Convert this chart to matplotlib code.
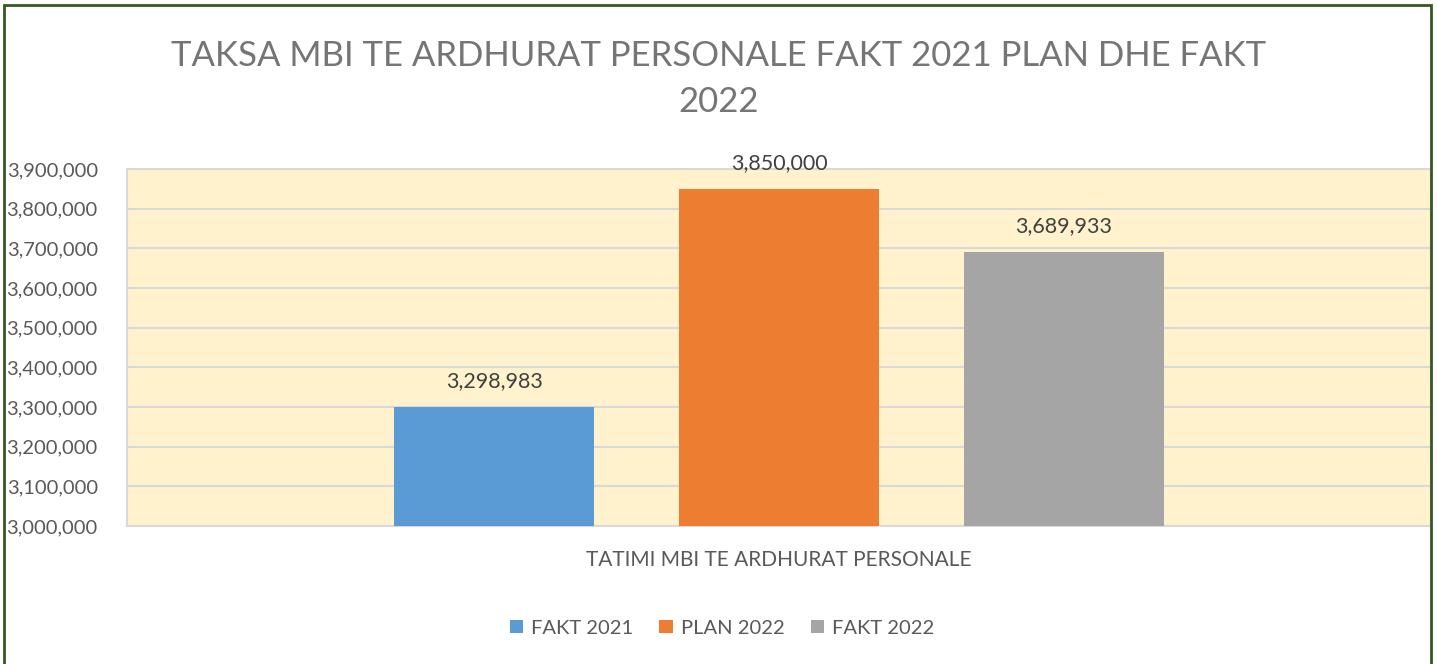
import matplotlib.pyplot as plt
from matplotlib.ticker import FuncFormatter
from matplotlib.patches import Rectangle

plt.rcParams['font.family'] = ['Lato', 'DejaVu Sans']

category = "TATIMI MBI TE ARDHURAT PERSONALE"
series = ["FAKT 2021", "PLAN 2022", "FAKT 2022"]
values = [3298983, 3850000, 3689933]
colors = ["#5b9bd5", "#ed7d31", "#a5a5a5"]
yticks = [3000000, 3100000, 3200000, 3300000, 3400000, 3500000,
          3600000, 3700000, 3800000, 3900000]

fig = plt.figure(figsize=(14.37, 6.64), dpi=100)
ax = fig.add_axes([127 / 1437, 1 - 526 / 664, (1431 - 127) / 1437, (526 - 169) / 664])
ax.set_facecolor("#fff2cc")

width = 0.153
offsets = [-0.2185, 0.0, 0.2185]
for name, v, c, off in zip(series, values, colors, offsets):
    x = 0.5 + off
    ax.bar(x, v - 3000000, bottom=3000000, width=width, color=c, label=name, zorder=3)
    ax.text(x, v + 40000, f"{v:,}", ha="center", va="bottom",
            fontsize=15.5, color="#404040")

ax.set_xlim(0, 1)
ax.set_ylim(3000000, 3900000)
ax.set_yticks(yticks)
ax.yaxis.set_major_formatter(FuncFormatter(lambda v, p: f"{int(v):,}"))
ax.tick_params(axis="y", length=0, labelsize=14.5, labelcolor="#595959", pad=21)
ax.set_xticks([0.5])
ax.set_xticklabels([category])
ax.tick_params(axis="x", length=0, labelsize=15, labelcolor="#595959", pad=17)
ax.grid(axis="y", color="#d9d9d9", linewidth=1.5, zorder=0)
for s in ax.spines.values():
    s.set_color("#d9d9d9")
    s.set_linewidth(1.5)

fig.text(0.5, 1 - 79 / 664, "TAKSA MBI TE ARDHURAT PERSONALE FAKT 2021 PLAN DHE FAKT\n2022",
         ha="center", va="center", fontsize=25, color="#757575", linespacing=1.55)

fig.legend(loc="center", bbox_to_anchor=(722 / 1437, 1 - 628 / 664), ncol=3,
           frameon=False, fontsize=14.5, handlelength=0.65, handleheight=0.65,
           columnspacing=1.3, handletextpad=0.4, labelcolor="#595959")

# outer chart border
fig.patches.append(Rectangle((4 / 1437, -0.01), (1431 - 4) / 1437, (664 - 5) / 664 + 0.01,
                             transform=fig.transFigure, fill=False,
                             edgecolor="#375623", linewidth=2))

fig.savefig("out.png", dpi=100)
